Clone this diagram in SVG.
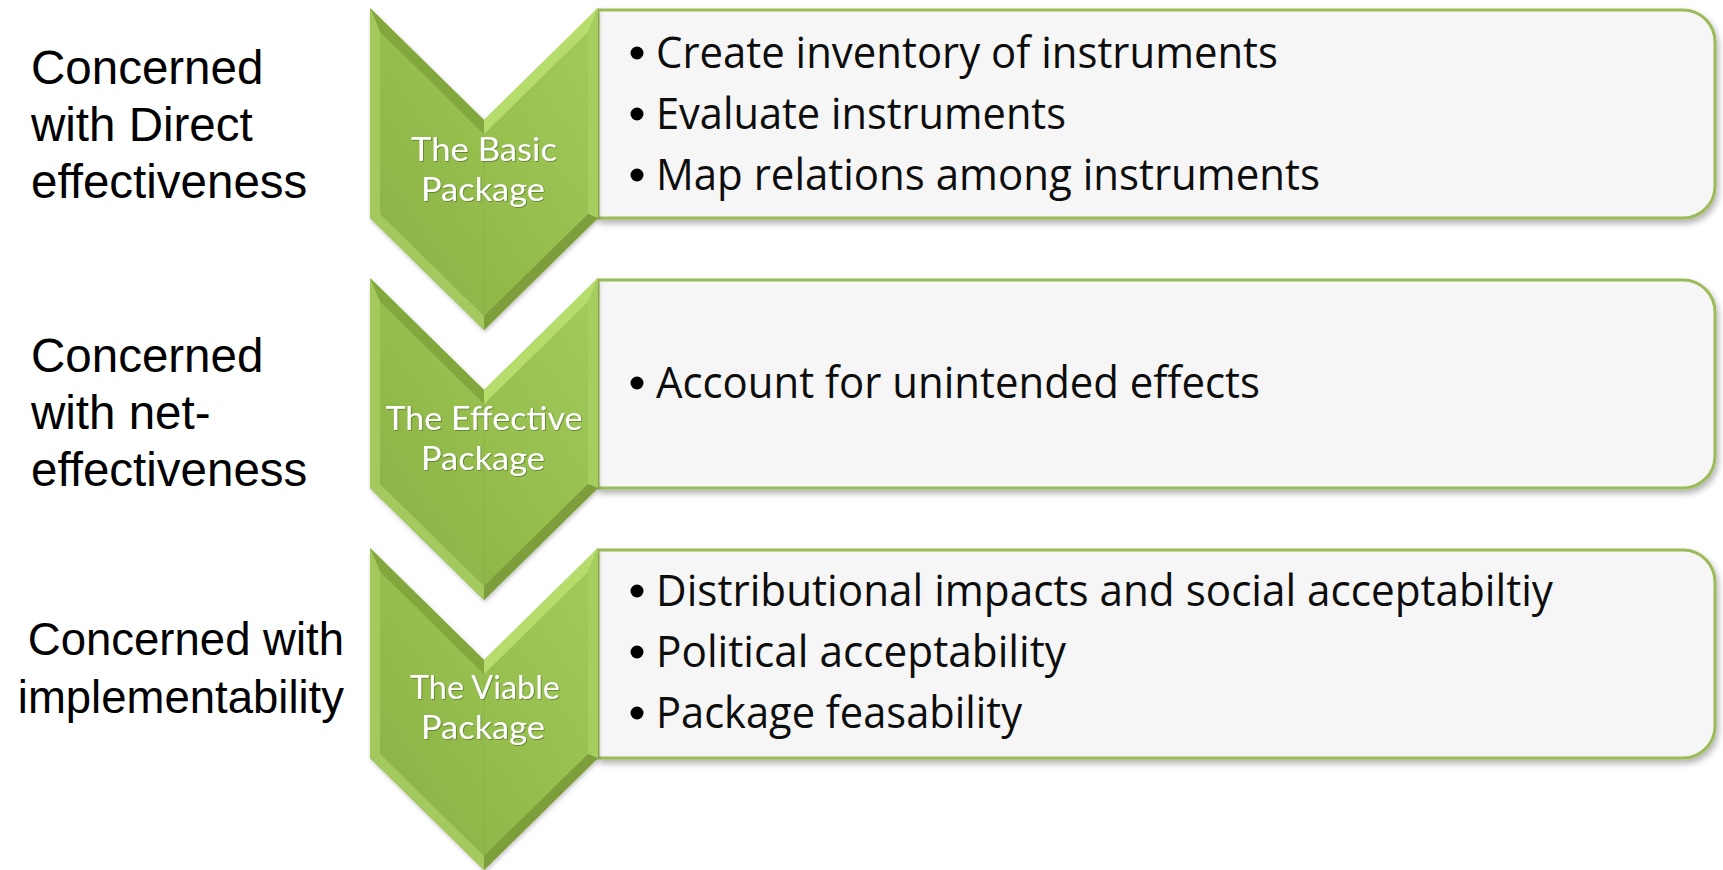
<svg xmlns="http://www.w3.org/2000/svg" xmlns:xlink="http://www.w3.org/1999/xlink" width="1723" height="870" viewBox="0 0 1723 870">
  <style>
    .label { font-family: "Liberation Sans", Arial, sans-serif; font-size: 47.5px; fill: #000; }
    .label-r { font-family: "Liberation Sans", Arial, sans-serif; font-size: 45.5px; fill: #000; text-anchor: end; }
    .stage { font-family: Lato, "Open Sans", sans-serif; font-size: 32px; fill: #ffffff; text-anchor: middle; }
    .item { font-family: "Open Sans", "Noto Sans", sans-serif; font-size: 43px; fill: #0d0d0d; }
    .box { fill: #f6f6f6; stroke: #9bbb59; stroke-width: 3; }
    .dot { fill: #000; }
  </style>
  <defs>
    <linearGradient id="bodyFill" x1="1" y1="0" x2="0" y2="1">
      <stop offset="0" stop-color="#a2cb5b"/>
      <stop offset="0.5" stop-color="#95be4e"/>
      <stop offset="1" stop-color="#88ae42"/>
    </linearGradient>
    <filter id="boxShadow" x="-5%" y="-10%" width="110%" height="130%">
      <feDropShadow dx="2" dy="4" stdDeviation="3" flood-color="#000" flood-opacity="0.3"/>
    </filter>
    <filter id="chevShadow" x="-10%" y="-10%" width="120%" height="120%">
      <feDropShadow dx="1" dy="2" stdDeviation="2" flood-color="#000" flood-opacity="0.25"/>
    </filter>
    <filter id="textGlow" x="-10%" y="-20%" width="120%" height="140%">
      <feDropShadow dx="0.8" dy="0.8" stdDeviation="0.6" flood-color="#4a6a1c" flood-opacity="0.8"/>
    </filter>
    <!-- bevelled downward chevron, local origin at its top-left tip -->
    <g id="chevron">
      <polygon points="0,0 114,112 228,0 228,210 114,322 0,210" fill="url(#bodyFill)" filter="url(#chevShadow)"/>
      <polygon points="0,0 114,112 114,126 10,23.8" fill="#82a83d"/>
      <polygon points="114,112 228,0 218,23.8 114,126" fill="#b6dd6c"/>
      <polygon points="228,0 228,210 218,206 218,23.8" fill="#a6cd60"/>
      <polygon points="228,210 114,322 114,308 218,206" fill="#7d9e3a"/>
      <polygon points="114,322 0,210 10,206 114,308" fill="#a4c95f"/>
      <polygon points="0,210 0,0 10,23.8 10,206" fill="#a3c95d"/>
      <line x1="114" y1="126" x2="114" y2="308" stroke="#86ac40" stroke-width="1" opacity="0.5"/>
    </g>
  </defs>

  <!-- text boxes -->
  <g id="box-basic">
    <path class="box" filter="url(#boxShadow)" d="M598,10 H1683 A32,32 0 0 1 1715,42 V186 A32,32 0 0 1 1683,218 H598 Z"/>
    <circle class="dot" cx="637" cy="53" r="6.5"/>
    <text class="item" x="656" y="68" textLength="622" lengthAdjust="spacingAndGlyphs">Create inventory of instruments</text>
    <circle class="dot" cx="637" cy="114" r="6.5"/>
    <text class="item" x="656" y="129" textLength="410" lengthAdjust="spacingAndGlyphs">Evaluate instruments</text>
    <circle class="dot" cx="637" cy="175" r="6.5"/>
    <text class="item" x="656" y="190" textLength="664" lengthAdjust="spacingAndGlyphs">Map relations among instruments</text>
  </g>
  <g id="box-effective">
    <path class="box" filter="url(#boxShadow)" d="M598,280 H1683 A32,32 0 0 1 1715,312 V456 A32,32 0 0 1 1683,488 H598 Z"/>
    <circle class="dot" cx="637" cy="383" r="6.5"/>
    <text class="item" x="656" y="398" textLength="604" lengthAdjust="spacingAndGlyphs">Account for unintended effects</text>
  </g>
  <g id="box-viable">
    <path class="box" filter="url(#boxShadow)" d="M598,550 H1683 A32,32 0 0 1 1715,582 V726 A32,32 0 0 1 1683,758 H598 Z"/>
    <circle class="dot" cx="637" cy="591" r="6.5"/>
    <text class="item" x="656" y="606" textLength="897" lengthAdjust="spacingAndGlyphs">Distributional impacts and social acceptabiltiy</text>
    <circle class="dot" cx="637" cy="652" r="6.5"/>
    <text class="item" x="656" y="667" textLength="410" lengthAdjust="spacingAndGlyphs">Political acceptability</text>
    <circle class="dot" cx="637" cy="713" r="6.5"/>
    <text class="item" x="656" y="728" textLength="366" lengthAdjust="spacingAndGlyphs">Package feasability</text>
  </g>

  <!-- chevron stages -->
  <g id="stage-basic">
    <use xlink:href="#chevron" href="#chevron" transform="translate(370,8)"/>
    <g filter="url(#textGlow)">
      <text class="stage" x="484" y="161" textLength="146" lengthAdjust="spacingAndGlyphs">The Basic</text>
      <text class="stage" x="483" y="201" textLength="124" lengthAdjust="spacingAndGlyphs">Package</text>
    </g>
  </g>
  <g id="stage-effective">
    <use xlink:href="#chevron" href="#chevron" transform="translate(370,278)"/>
    <g filter="url(#textGlow)">
      <text class="stage" x="484" y="430" textLength="197" lengthAdjust="spacingAndGlyphs">The Effective</text>
      <text class="stage" x="483" y="470" textLength="124" lengthAdjust="spacingAndGlyphs">Package</text>
    </g>
  </g>
  <g id="stage-viable">
    <use xlink:href="#chevron" href="#chevron" transform="translate(370,548)"/>
    <g filter="url(#textGlow)">
      <text class="stage" x="485" y="699" textLength="150" lengthAdjust="spacingAndGlyphs">The Viable</text>
      <text class="stage" x="483" y="739" textLength="124" lengthAdjust="spacingAndGlyphs">Package</text>
    </g>
  </g>

  <!-- side labels -->
  <g id="label-direct">
    <text class="label" x="31" y="84">Concerned</text>
    <text class="label" x="31" y="141">with Direct</text>
    <text class="label" x="31" y="198">effectiveness</text>
  </g>
  <g id="label-net">
    <text class="label" x="31" y="372">Concerned</text>
    <text class="label" x="31" y="429">with net-</text>
    <text class="label" x="31" y="486">effectiveness</text>
  </g>
  <g id="label-implement">
    <text class="label-r" x="344" y="655">Concerned with</text>
    <text class="label-r" x="344" y="713">implementability</text>
  </g>

  <!-- no connectors: the stages are joined by their chevron shapes -->
  <g id="connectors"/>
</svg>
